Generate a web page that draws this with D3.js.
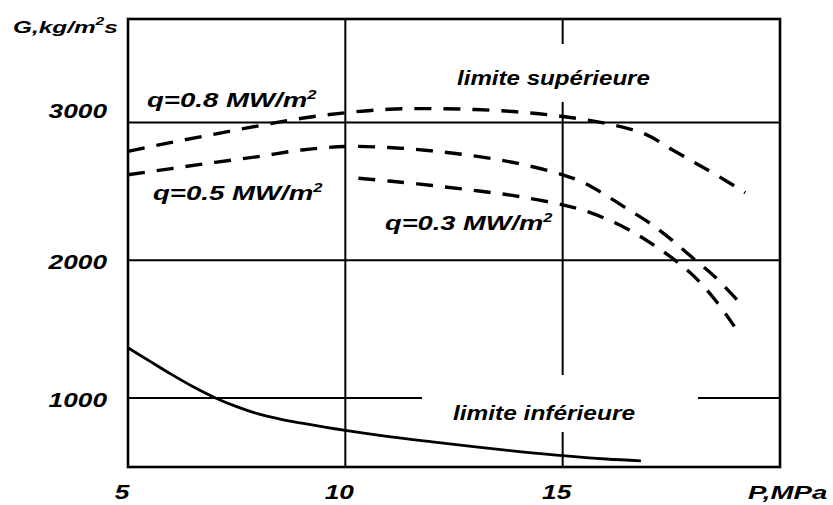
<!DOCTYPE html>
<html>
<head>
<meta charset="utf-8">
<script src="https://cdn.jsdelivr.net/npm/d3@7"></script>
<style>
  body { margin: 0; background: #fff; }
  text { font-family: "Liberation Sans", Arial, sans-serif; font-weight: bold; font-style: italic; fill: #000; }
</style>
</head>
<body>
<div id="chart"></div>
<script>
// values (P in MPa, G in kg/m2s)
var pLower = [5, 5.5, 6, 6.5, 7, 7.5, 8, 8.5, 9, 10, 11, 12, 13, 14, 15, 16, 16.8];
var gLower = [1365, 1268, 1172, 1082, 1003, 938, 885, 847, 818, 765, 720, 682, 646, 612, 582, 558, 545];

var pQ08 = [5, 6, 7, 8, 9, 10, 11, 12, 13, 14, 15, 16, 16.9, 17.5, 18, 18.5, 19.2];
var gQ08 = [2790, 2855, 2915, 2975, 3030, 3070, 3095, 3100, 3093, 3075, 3043, 2992, 2915, 2805, 2715, 2625, 2490];

var pQ05 = [5, 6, 7, 8, 9, 10, 11, 12, 13, 14, 15, 15.5, 16, 16.5, 17, 17.5, 18, 18.5, 19.05];
var gQ05 = [2620, 2665, 2710, 2752, 2800, 2825, 2818, 2793, 2755, 2700, 2620, 2560, 2470, 2370, 2270, 2150, 2015, 1880, 1700];

var pQ03 = [10.3, 11, 12, 13, 14, 15, 15.5, 16, 16.5, 17, 17.5, 18, 18.5, 18.95];
var gQ03 = [2595, 2575, 2542, 2505, 2462, 2402, 2360, 2300, 2225, 2130, 2020, 1890, 1715, 1520];

var xTicks = [5, 10, 15];
var yTicks = [1000, 2000, 3000];
var xGrid = [10, 15];

var width = 833, height = 505;

var svg = d3.select("#chart")
  .append("svg")
  .attr("width", width)
  .attr("height", height);

svg.append("rect").attr("width", width).attr("height", height).attr("fill", "#fff");

var x = d3.scaleLinear().domain([5, 20]).range([128, 780]);
var y = d3.scaleLinear().domain([500, 3750]).range([467, 19]);

// gridlines
svg.append("g").selectAll("line")
  .data(xGrid).enter().append("line")
  .attr("x1", d => x(d)).attr("x2", d => x(d))
  .attr("y1", y.range()[1]).attr("y2", y.range()[0])
  .attr("stroke", "#000").attr("stroke-width", 2);

svg.append("g").selectAll("line")
  .data(yTicks).enter().append("line")
  .attr("x1", x.range()[0]).attr("x2", x.range()[1])
  .attr("y1", d => y(d)).attr("y2", d => y(d))
  .attr("stroke", "#000").attr("stroke-width", 2);

// white boxes behind the two "limite" labels
svg.append("rect").attr("x", 430).attr("y", 44).attr("width", 250).attr("height", 58).attr("fill", "#fff");
svg.append("rect").attr("x", 422).attr("y", 375).attr("width", 276).attr("height", 57).attr("fill", "#fff");

// frame
svg.append("rect")
  .attr("x", x.range()[0]).attr("y", y.range()[1])
  .attr("width", x.range()[1] - x.range()[0])
  .attr("height", y.range()[0] - y.range()[1])
  .attr("fill", "none").attr("stroke", "#000").attr("stroke-width", 2.6);

// curves
var line = d3.line()
  .x(d => x(d[0]))
  .y(d => y(d[1]))
  .curve(d3.curveCatmullRom.alpha(0.5));

function drawCurve(ps, gs, dashed) {
  var pts = ps.map((p, i) => [p, gs[i]]);
  svg.append("path")
    .datum(pts)
    .attr("d", line)
    .attr("fill", "none")
    .attr("stroke", "#000")
    .attr("stroke-width", dashed ? 3.4 : 2.8)
    .attr("stroke-dasharray", dashed ? "17,12" : null);
}

drawCurve(pLower, gLower, false);
drawCurve(pQ08, gQ08, true);
drawCurve(pQ05, gQ05, true);
drawCurve(pQ03, gQ03, true);

// text stretched horizontally like the scanned figure
function label(parts, px, py, anchor, size, w, sx) {
  var t = svg.append("text")
    .attr("text-anchor", anchor)
    .style("font-size", size + "px");
  var shift = 0;
  parts.forEach(function (p) {
    var ts = t.append("tspan").text(p.s);
    if (p.sup) {
      ts.attr("dy", -8 - shift).style("font-size", Math.round(size * 0.62) + "px");
      shift = -8;
    } else if (shift) {
      ts.attr("dy", -shift);
      shift = 0;
    }
  });
  var k = sx;
  if (w) k = w / t.node().getBBox().width;
  t.attr("transform", "translate(" + px + "," + py + ") scale(" + k + ",1)");
  return t;
}

yTicks.forEach(function (v) {
  label([{ s: String(v) }], 107, y(v) + (v === 3000 ? -4 : 9), "end", 21, null, 1.25);
});
xTicks.forEach(function (v) {
  label([{ s: String(v) }], x(v) - 6, 499, "middle", 21, null, 1.25);
});

label([{ s: "P,MPa" }], 748, 499, "start", 19, 80);
label([{ s: "G,kg/m" }, { s: "2", sup: true }, { s: "s" }], 13, 33, "start", 17, 105);

label([{ s: "q=0.8 MW/m" }, { s: "2", sup: true }], 147, 107, "start", 20, 170);
label([{ s: "q=0.5 MW/m" }, { s: "2", sup: true }], 153, 200, "start", 20, 170);
label([{ s: "q=0.3 MW/m" }, { s: "2", sup: true }], 385, 230, "start", 20, 168);

label([{ s: "limite supérieure" }], 457, 85, "start", 20, 193);
label([{ s: "limite inférieure" }], 453, 420, "start", 20, 182);
</script>
</body>
</html>
